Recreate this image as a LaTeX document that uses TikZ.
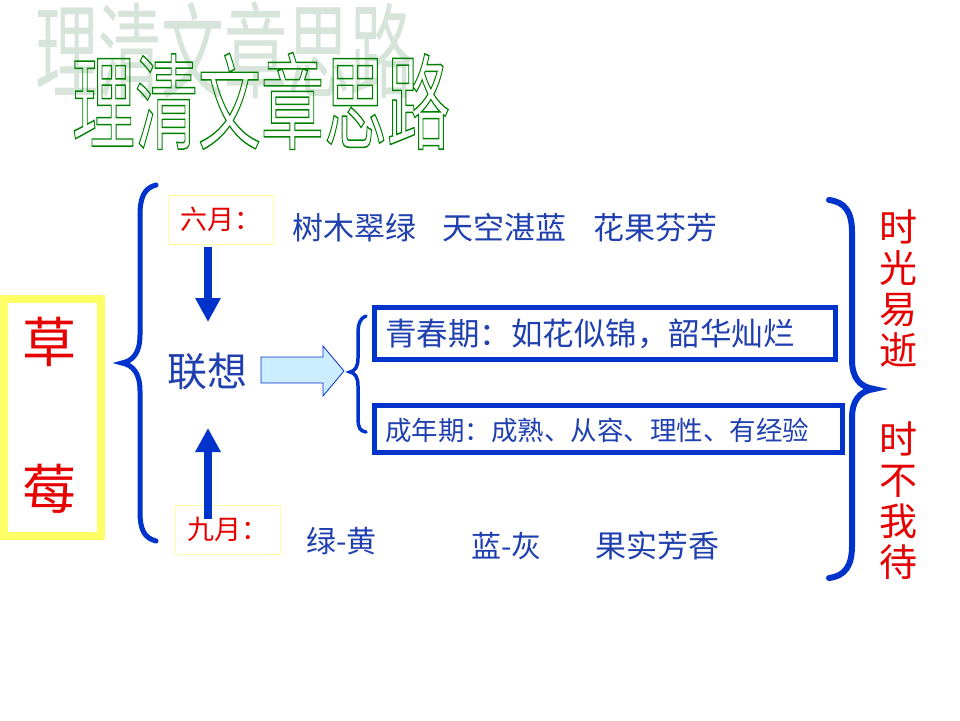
\documentclass[tikz,border=0pt]{standalone}
\usepackage{fontspec}
\setmainfont{Noto Sans CJK SC}
\usetikzlibrary{arrows.meta}
\definecolor{bl}{RGB}{0,51,204}
\definecolor{tb}{RGB}{32,64,176}
\definecolor{rd}{RGB}{230,0,0}
\definecolor{yl}{RGB}{255,255,102}
\definecolor{lyl}{RGB}{255,255,160}
\definecolor{lb}{RGB}{204,236,255}
\definecolor{shd}{RGB}{214,228,218}
\definecolor{og}{RGB}{0,128,0}
\newcommand{\fs}[1]{\fontsize{#1}{#1}\selectfont}
\newcommand{\outlinetext}[1]{\special{pdf:literal direct 1 Tr 0.9 w}#1\special{pdf:literal direct 0 Tr}}
\begin{document}
\begin{tikzpicture}[x=1pt,y=-1pt,
  txt/.style={inner sep=0pt, text=tb},
  redt/.style={inner sep=0pt, text=rd},
  monbox/.style={draw=lyl, line width=1pt, minimum width=105pt, minimum height=49pt, inner sep=0pt, text=rd, font=\fs{27}},
  bigbox/.style={draw=bl, line width=5pt},
  brace/.style={draw=bl, line cap=round},
  fatarrow/.style={draw=bl, line width=8pt, -{Triangle[width=24pt,length=24pt]}}
]
\useasboundingbox[fill=white] (0,0) rectangle (960,720);

% title
\node[inner sep=0pt, text=shd, font=\fs{63}] (tshadow) at (224,50) {\scalebox{1}[1.65]{理清文章思路}};
\node[inner sep=0pt, text=og, font=\fs{63}] (title) at (261,101) {\scalebox{1}[1.65]{\outlinetext{理清文章思路}}};

% strawberry box
\draw[draw=yl, line width=8pt] (4,299) rectangle (101,536);
\node[redt, font=\fs{54}] (cao) at (49,342) {草};
\node[redt, font=\fs{54}] (mei) at (49,489) {莓};

% left big brace
\draw[brace, line width=5pt] (156,185) .. controls (144,188) and (140,198) .. (140,215) -- (140,335)
  .. controls (140,354) and (132,361) .. (122,363)
  .. controls (132,365) and (140,372) .. (140,391) -- (140,512)
  .. controls (140,529) and (144,538) .. (156,541);

% months
\node[monbox] (jun) at (220.5,219.5) {六月：};
\node[monbox] (sep) at (228,529.5) {九月：};

\node[txt, font=\fs{31}, anchor=west] (jt1) at (292,228) {树木翠绿};
\node[txt, font=\fs{31}, anchor=west] (jt2) at (442,228) {天空湛蓝};
\node[txt, font=\fs{31}, anchor=west] (jt3) at (593,228) {花果芬芳};

\node[txt, font=\fs{30}, anchor=west] (st1) at (306,541) {绿-黄};
\node[txt, font=\fs{30}, anchor=west] (st2) at (471,546) {蓝-灰};
\node[txt, font=\fs{31}, anchor=west] (st3) at (595,546) {果实芳香};

% association
\node[txt, font=\fs{40}] (lx) at (207,371) {联想};

\coordinate (dA) at (208,247);
\coordinate (dB) at (208,322);
\coordinate (uA) at (208,519);
\coordinate (uB) at (208,428);
\draw[fatarrow] (dA) -- (dB);
\draw[fatarrow] (uA) -- (uB);

% block arrow
\coordinate (ba) at (261,357);
\draw[draw=bl, fill=lb, line width=0.8pt] (ba) -- (323,357) -- (323,346) -- (344,371) -- (323,396) -- (323,383) -- (261,383) -- cycle;

% small brace
\draw[brace, line width=3.5pt] (366,316) .. controls (360,318) and (358,324) .. (358,334) -- (358,358)
  .. controls (358,367) and (355,371) .. (350,372)
  .. controls (355,373) and (358,377) .. (358,386) -- (358,418)
  .. controls (358,428) and (360,431) .. (366,432);

% boxes
\draw[bigbox] (374.5,307.5) rectangle (835.5,359.5);
\node[txt, font=\fs{31.5}, anchor=west] (qc) at (385,334) {青春期：如花似锦，韶华灿烂};
\draw[bigbox] (374.5,405.5) rectangle (842.5,452.5);
\node[txt, font=\fs{26.5}, anchor=west] (cn) at (385,430) {成年期：成熟、从容、理性、有经验};

% right big brace
\draw[brace, line width=6pt] (829,200) .. controls (845,202) and (852,212) .. (852,232) -- (852,360)
  .. controls (852,378) and (860,387) .. (874,389)
  .. controls (860,391) and (852,400) .. (852,418) -- (852,546)
  .. controls (852,566) and (845,576) .. (829,578);

% right red text
\node[redt, font=\fontsize{38}{41}\selectfont, align=center] (sg) at (898,289) {时\\光\\易\\逝};
\node[redt, font=\fontsize{38}{41}\selectfont, align=center] (sb) at (898,501) {时\\不\\我\\待};
\end{tikzpicture}
\end{document}
